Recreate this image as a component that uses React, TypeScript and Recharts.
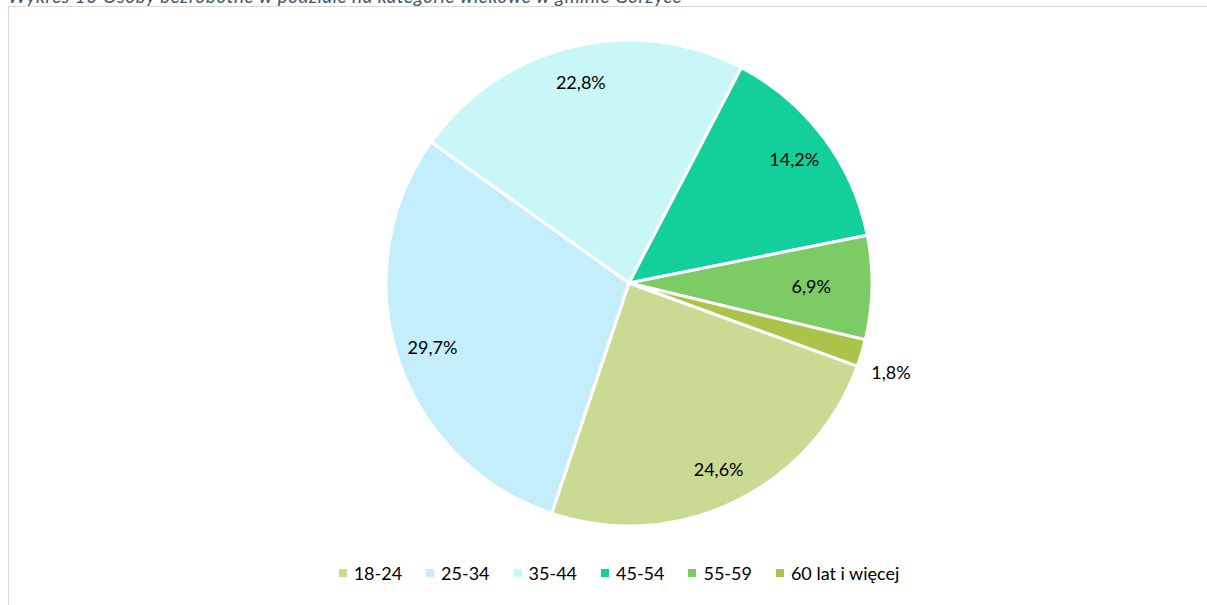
import { PieChart, Pie, Cell, Legend } from 'recharts';

const categories = ['18-24', '25-34', '35-44', '45-54', '55-59', '60 lat i więcej'];
const shares = [24.6, 29.7, 22.8, 14.2, 6.9, 1.8];
const colors = ['#C9DA93', '#C5EEFC', '#C9F7F8', '#13CF9B', '#7CCB64', '#A9C44A'];

const title = 'Wykres 10 Osoby bezrobotne w podziale na kategorie wiekowe w gminie Gorzyce';

const data = categories.map((name, i) => ({ name, value: shares[i] }));

const RADIAN = Math.PI / 180;
const FONT = 'Lato, "Open Sans", sans-serif';

const renderLabel = (props: any) => {
  const { cx, cy, midAngle, outerRadius, percent, value } = props;
  const cos = Math.cos(-midAngle * RADIAN);
  const sin = Math.sin(-midAngle * RADIAN);
  const text = value.toFixed(1).replace('.', ',') + '%';

  if (percent < 0.03) {
    // small slice: label outside the pie
    const r = outerRadius + 8;
    return (
      <text
        x={cx + r * cos + (cos > 0 ? 2 : -2)}
        y={cy + r * sin + 17}
        textAnchor={cos > 0 ? 'start' : 'end'}
        dominantBaseline="central"
        fill="#000"
        fontSize={18}
        fontFamily={FONT}
      >
        {text}
      </text>
    );
  }

  const r = outerRadius * (percent < 0.1 ? 0.75 : 0.85);
  return (
    <text
      x={cx + r * cos}
      y={cy + r * sin}
      textAnchor="middle"
      dominantBaseline="central"
      fill="#000"
      fontSize={18}
      fontFamily={FONT}
    >
      {text}
    </text>
  );
};

const renderLegend = (props: any) => {
  const { payload } = props;
  return (
    <div
      style={{
        display: 'flex',
        justifyContent: 'center',
        alignItems: 'center',
        fontFamily: FONT,
        fontSize: 18,
        color: '#000',
        gap: 24,
      }}
    >
      {(payload || []).map((item: any) => (
        <div key={item.value} style={{ display: 'flex', alignItems: 'center' }}>
          <span
            style={{
              display: 'inline-block',
              width: 8,
              height: 8,
              background: item.color,
              marginRight: 7,
            }}
          />
          <span>{item.value}</span>
        </div>
      ))}
    </div>
  );
};

export default function App() {
  return (
    <div
      style={{
        position: 'absolute',
        left: 0,
        top: 0,
        width: 1207,
        height: 605,
        overflow: 'hidden',
        background: '#fff',
      }}
    >
      <div
        style={{
          position: 'absolute',
          left: 8,
          top: -12,
          fontFamily: FONT,
          fontStyle: 'italic',
          fontSize: 19,
          letterSpacing: 0.5,
          lineHeight: '16px',
          color: '#44546A',
          whiteSpace: 'nowrap',
        }}
      >
        {title}
      </div>
      <div
        style={{
          position: 'absolute',
          left: 8,
          top: 6,
          width: 1220,
          height: 620,
          borderTop: '1.5px solid #D9D9D9',
          borderLeft: '1.5px solid #D9D9D9',
        }}
      />
      <div style={{ position: 'absolute', left: 0, top: 0 }}>
        <PieChart width={1207} height={605} margin={{ top: 0, right: 0, bottom: 0, left: 0 }}>
          <Pie
            data={data}
            dataKey="value"
            nameKey="name"
            cx={629}
            cy={283}
            outerRadius={243}
            startAngle={-20}
            endAngle={-380}
            stroke="#fff"
            strokeWidth={3}
            label={renderLabel}
            labelLine={false}
            isAnimationActive={false}
          >
            {data.map((d, i) => (
              <Cell key={d.name} fill={colors[i]} />
            ))}
          </Pie>
          <Legend
            content={renderLegend}
            wrapperStyle={{ position: 'absolute', left: 0, top: 562, width: 1238 }}
          />
        </PieChart>
      </div>
    </div>
  );
}
